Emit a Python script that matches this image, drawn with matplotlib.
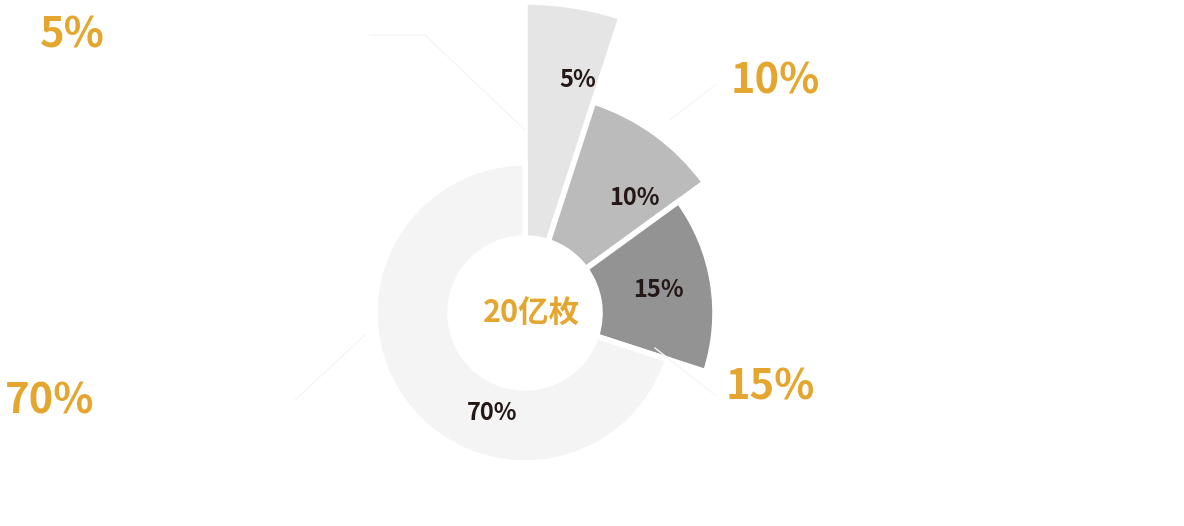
import matplotlib.pyplot as plt
from matplotlib.patches import Wedge

plt.rcParams['font.family'] = ['Noto Sans CJK SC', 'DejaVu Sans']

labels = ['5%', '10%', '15%', '70%']
shares = [5, 10, 15, 70]
radii = [311, 222, 190, 150]
colors = ['#e5e5e5', '#bbbbbb', '#939393', '#f4f4f4']
center_text = '20亿枚'

W, H = 1184, 526
cx, cy = 525, H - 313
inner = 75

fig = plt.figure(figsize=(W / 100, H / 100), dpi=100)
ax = fig.add_axes([0, 0, 1, 1])
ax.set_xlim(0, W)
ax.set_ylim(0, H)
ax.set_aspect('equal')
ax.axis('off')

start = 90
for s, r, c in zip(shares, radii, colors):
    span = s / 100 * 360
    ax.add_patch(Wedge((cx, cy), r, start - span, start, width=r - inner,
                       facecolor=c, edgecolor='white', linewidth=4))
    start -= span

# inner labels
inner_pos = [(578, 80), (634, 198), (658, 290), (492, 413)]
for t, (x, y) in zip(labels, inner_pos):
    ax.text(x, H - y, t, ha='center', va='center', fontsize=17,
            fontweight='bold', color='#231815')

# outer labels with faint leader lines
outer_pos = [(72, 35), (775, 82), (770, 388), (50, 402)]
leaders = [[(525, 130), (425, 35), (370, 35)],
           [(670, 120), (715, 85)],
           [(655, 348), (715, 395)],
           [(365, 335), (295, 400)]]
for t, (x, y), pts in zip(labels, outer_pos, leaders):
    ax.plot([p[0] for p in pts], [H - p[1] for p in pts], color='#f6f6f6', lw=1)
    ax.text(x, H - y, t, ha='center', va='center', fontsize=30,
            fontweight='bold', color='#e5a630')

ax.text(cx + 6, cy, center_text, ha='center', va='center', fontsize=22,
        fontweight='bold', color='#e5a630')

fig.savefig('out.png', dpi=100)
